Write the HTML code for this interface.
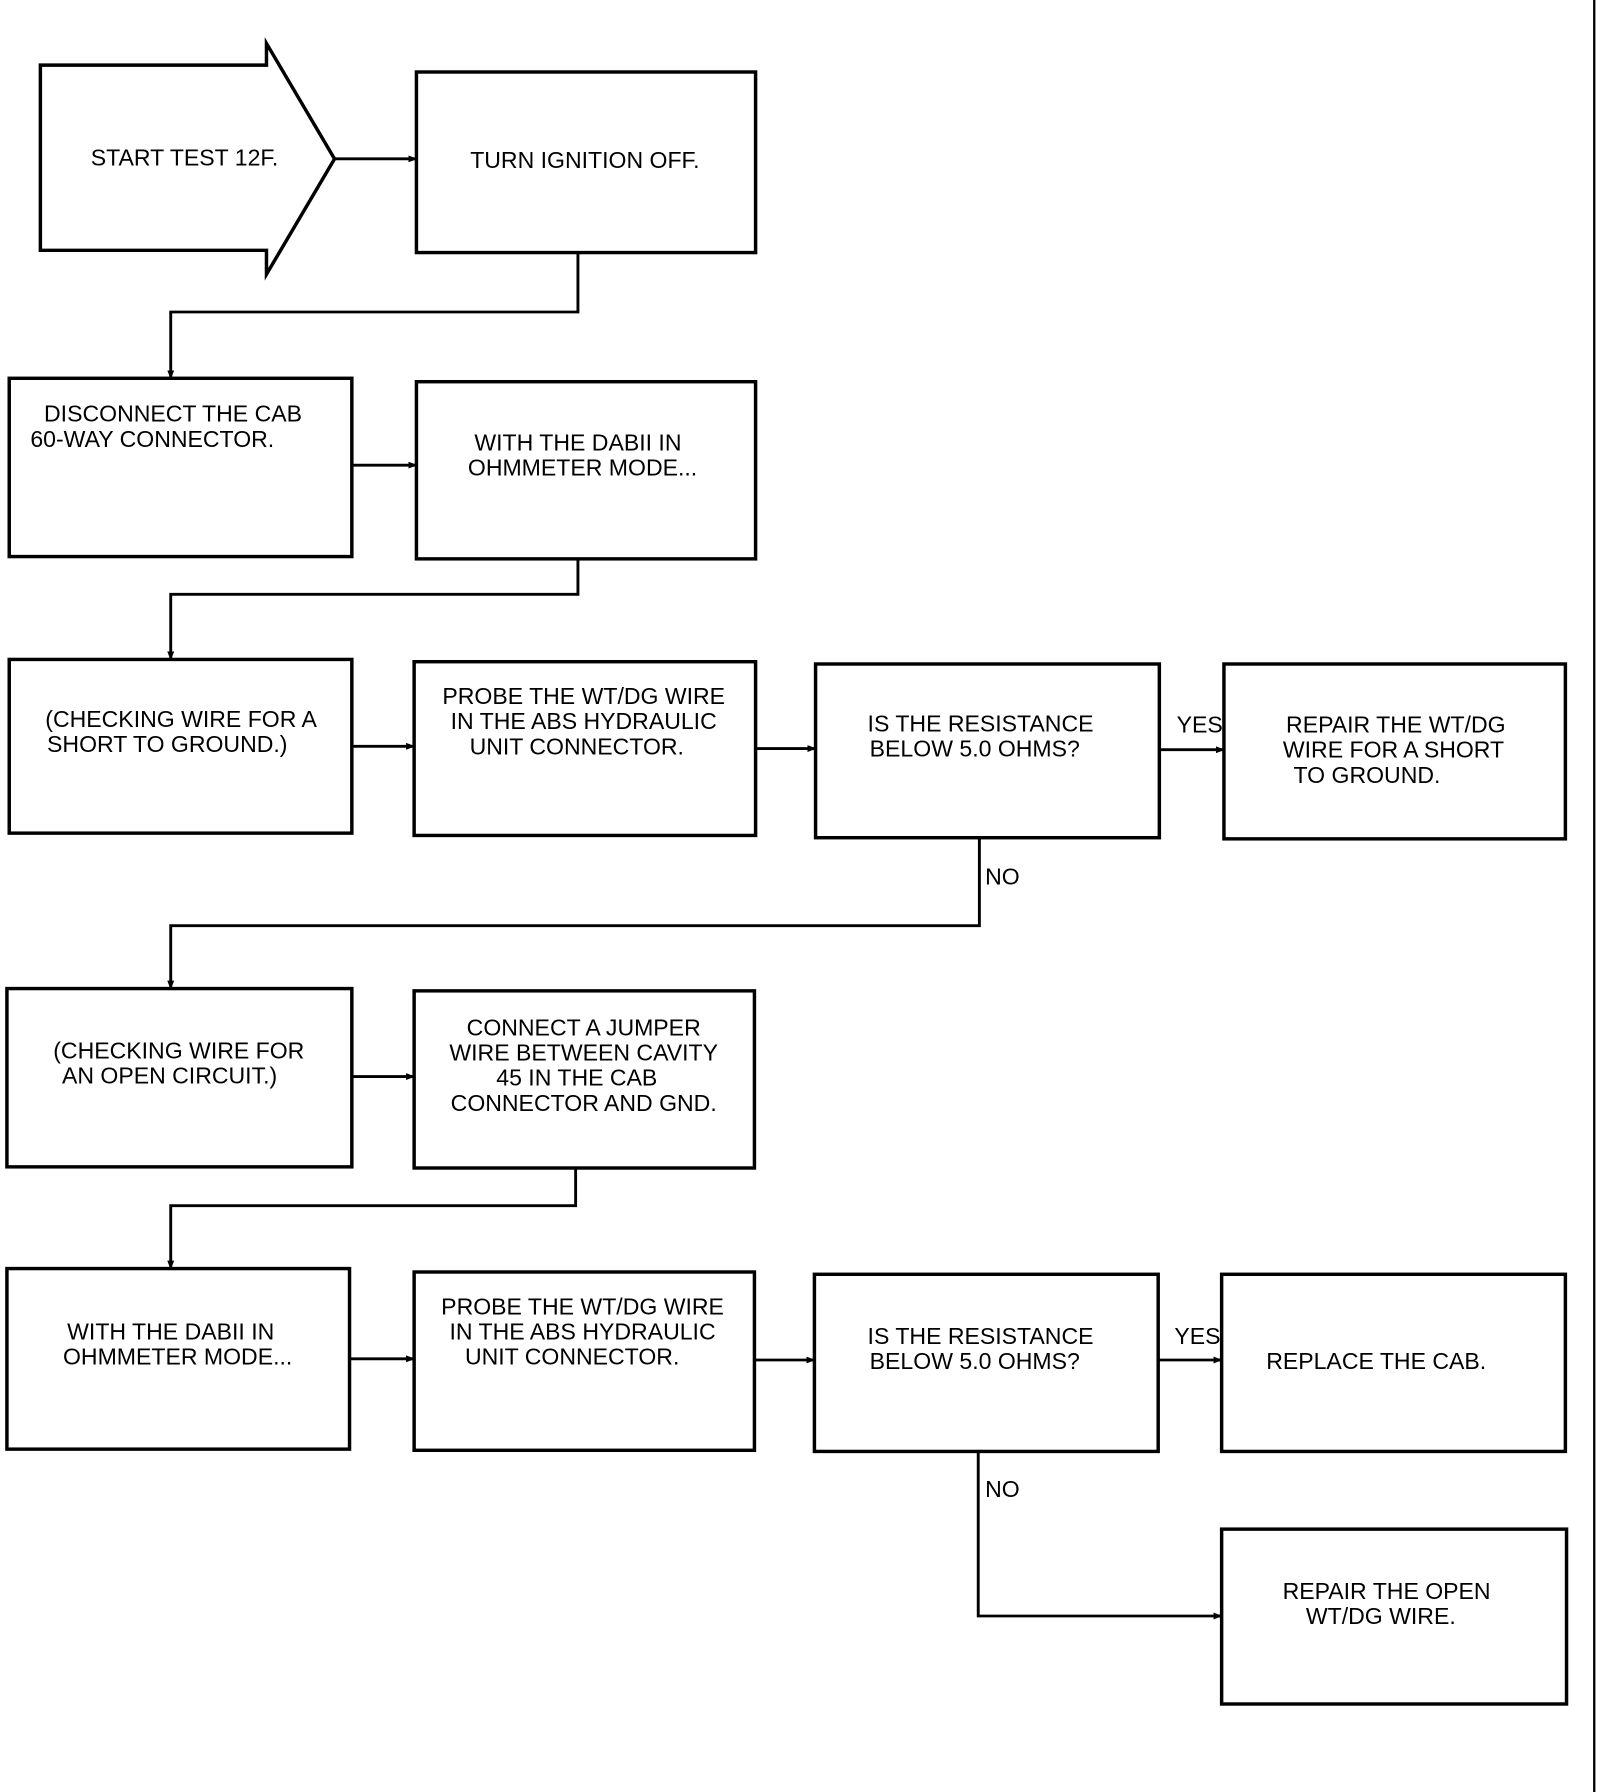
<!DOCTYPE html>
<html><head><meta charset="utf-8"><style>html,body{margin:0;padding:0;background:#fff}svg{display:block}</style></head>
<body>
<svg width="1600" height="1792" viewBox="0 0 1387 1568" preserveAspectRatio="none" xmlns="http://www.w3.org/2000/svg">
<defs><marker id="a" markerWidth="8" markerHeight="8" refX="7" refY="4" orient="auto" markerUnits="userSpaceOnUse"><path d="M0,1 L8,4 L0,7 z" fill="#000"/></marker></defs>
<rect width="1387" height="1568" fill="#fff"/>
<g fill="none" stroke="#000" stroke-width="3">
<polygon points="35,57 231,57 231,38 290,139 231,240 231,219 35,219"/>
<rect x="361" y="63" width="294" height="158"/>
<rect x="8" y="331" width="297" height="156"/>
<rect x="361" y="334" width="294" height="155"/>
<rect x="8" y="577" width="297" height="152"/>
<rect x="359" y="579" width="296" height="152"/>
<rect x="707" y="581" width="298" height="152"/>
<rect x="1061" y="581" width="296" height="153"/>
<rect x="6" y="865" width="299" height="156"/>
<rect x="359" y="867" width="295" height="155"/>
<rect x="6" y="1110" width="297" height="158"/>
<rect x="359" y="1113" width="295" height="156"/>
<rect x="706" y="1115" width="298" height="155"/>
<rect x="1059" y="1115" width="298" height="155"/>
<rect x="1059" y="1338" width="299" height="153"/>
</g>
<g fill="none" stroke="#000" stroke-width="2.5" marker-end="url(#a)">
<path d="M290,139 H361"/>
<path d="M501,221 V273 H148 V331"/>
<path d="M305,407 H361"/>
<path d="M501,489 V520 H148 V577"/>
<path d="M305,653 H359"/>
<path d="M655,655 H707"/>
<path d="M1005,656 H1061"/>
<path d="M849,733 V810 H148 V865"/>
<path d="M305,942 H359"/>
<path d="M499,1022 V1055 H148 V1110"/>
<path d="M303,1189 H359"/>
<path d="M654,1190 H706"/>
<path d="M1004,1190 H1059"/>
<path d="M848,1270 V1414 H1059"/>
</g>
<line x1="1382" y1="0" x2="1382" y2="1568" stroke="#000" stroke-width="2"/>
<g font-family="Liberation Sans, sans-serif" font-size="20" fill="#000" text-anchor="middle" transform="scale(1,1)">
<text x="160" y="145">START TEST 12F.</text>
<text x="507" y="147">TURN IGNITION OFF.</text>
<text x="150" y="369">DISCONNECT THE CAB</text>
<text x="132" y="391">60-WAY CONNECTOR.</text>
<text x="501" y="394">WITH THE DABII IN</text>
<text x="505" y="416">OHMMETER MODE...</text>
<text x="157" y="636">(CHECKING WIRE FOR A</text>
<text x="145" y="658">SHORT TO GROUND.)</text>
<text x="506" y="616">PROBE THE WT/DG WIRE</text>
<text x="506" y="638">IN THE ABS HYDRAULIC</text>
<text x="500" y="660">UNIT CONNECTOR.</text>
<text x="850" y="640">IS THE RESISTANCE</text>
<text x="845" y="662">BELOW 5.0 OHMS?</text>
<text x="1210" y="641">REPAIR THE WT/DG</text>
<text x="1208" y="663">WIRE FOR A SHORT</text>
<text x="1185" y="685">TO GROUND.</text>
<text x="1040" y="641">YES</text>
<text x="869" y="774">NO</text>
<text x="155" y="926">(CHECKING WIRE FOR</text>
<text x="147" y="948">AN OPEN CIRCUIT.)</text>
<text x="506" y="906">CONNECT A JUMPER</text>
<text x="506" y="928">WIRE BETWEEN CAVITY</text>
<text x="500" y="950">45 IN THE CAB</text>
<text x="506" y="972">CONNECTOR AND GND.</text>
<text x="148" y="1172">WITH THE DABII IN</text>
<text x="154" y="1194">OHMMETER MODE...</text>
<text x="505" y="1150">PROBE THE WT/DG WIRE</text>
<text x="505" y="1172">IN THE ABS HYDRAULIC</text>
<text x="496" y="1194">UNIT CONNECTOR.</text>
<text x="850" y="1176">IS THE RESISTANCE</text>
<text x="845" y="1198">BELOW 5.0 OHMS?</text>
<text x="1038" y="1176">YES</text>
<text x="1193" y="1198">REPLACE THE CAB.</text>
<text x="869" y="1310">NO</text>
<text x="1202" y="1399">REPAIR THE OPEN</text>
<text x="1197" y="1421">WT/DG WIRE.</text>
</g>
</svg>
</body></html>
